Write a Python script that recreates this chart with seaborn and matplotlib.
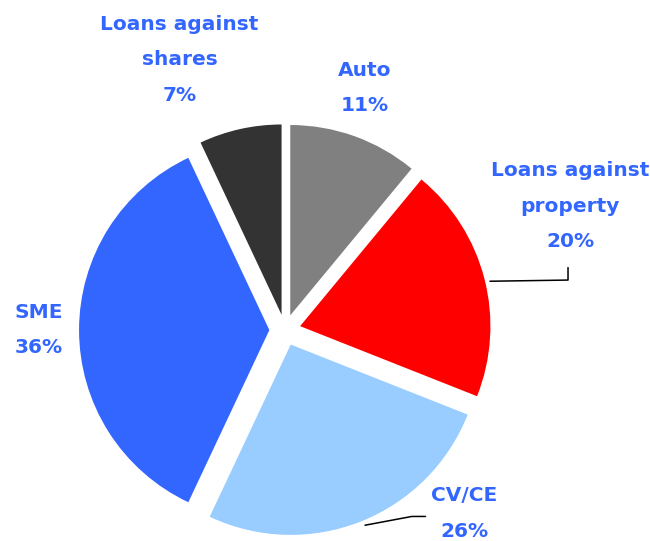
import matplotlib
matplotlib.use("Agg")
import matplotlib.pyplot as plt
import seaborn as sns

sns.set_theme(style="white")
plt.rcParams["font.family"] = ["DejaVu Sans"]

# Portfolio mix
segments = ["Auto", "Loans against\nproperty", "CV/CE", "SME", "Loans against\nshares"]
shares = [11, 20, 26, 36, 7]
colors = ["#808080", "#FF0000", "#99CCFF", "#3366FF", "#333333"]
label_color = "#3366FF"

fig, ax = plt.subplots(figsize=(6.5, 5.41), dpi=100)
fig.subplots_adjust(left=0, right=1, bottom=0, top=1)

ax.pie(shares, colors=colors, startangle=90, counterclock=False,
       explode=[0.08] * len(shares), radius=0.975,
       wedgeprops=dict(linewidth=0))

ax.set_xlim(-1.46, 1.87)
ax.set_ylim(-1.08, 1.69)
ax.set_aspect("equal")
ax.axis("off")

# label positions (data coords)
label_pos = [(0.41, 1.24), (1.46, 0.635), (0.92, -0.94), (-1.26, 0.0), (-0.54, 1.385)]
for name, val, (x, y) in zip(segments, shares, label_pos):
    ax.text(x, y, f"{name}\n{val}%", ha="center", va="center", color=label_color,
            fontsize=14.5, fontweight="bold", linespacing=2.1)

# leader lines
ax.plot([1.05, 1.45, 1.45], [0.25, 0.256, 0.32], color="black", lw=1.1)
ax.plot([0.41, 0.65, 0.72], [-1.0, -0.955, -0.955], color="black", lw=1.1)

fig.savefig("out.png", dpi=100)
